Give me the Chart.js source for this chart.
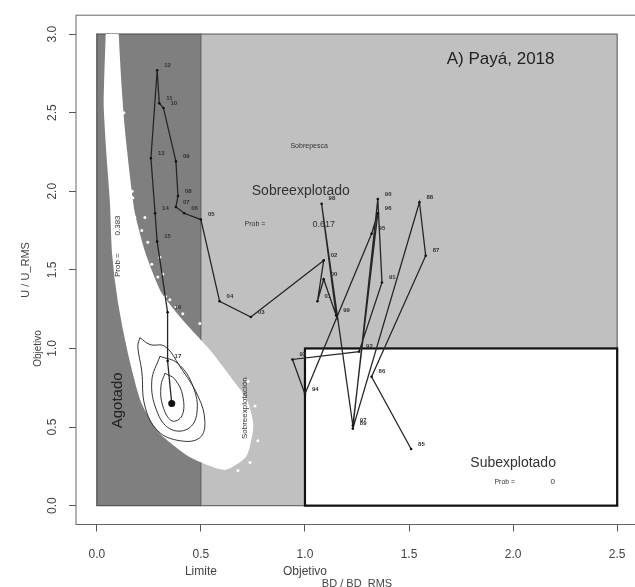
<!DOCTYPE html>
<html>
<head>
<meta charset="utf-8">
<script src="https://cdn.jsdelivr.net/npm/chart.js@4.4.1/dist/chart.umd.min.js"></script>
<style>
    html, body { margin: 0; padding: 0; background: #fff; overflow: hidden; }
    #wrap { width: 645px; height: 587px; }
</style>
</head>
<body>
<div id="wrap"><canvas id="kobeChart"></canvas></div>
<script>
// --- data ---
const years = ['85','86','87','88','89','90','91','92','93','94','95','96','97','98','99','00','01','02',
               '03','04','05','06','07','08','09','10','11','12','13','14','15','16','17','18'];
const bdRatio = [1.51, 1.32, 1.58, 1.55, 1.23, 1.35, 1.37, 1.26, 0.94, 1.00, 1.32, 1.35, 1.23, 1.08, 1.15, 1.09, 1.06, 1.09,
                 0.74, 0.59, 0.50, 0.42, 0.38, 0.39, 0.38, 0.32, 0.30, 0.29, 0.26, 0.28, 0.29, 0.34, 0.34, 0.36];
const uRatio  = [0.36, 0.82, 1.59, 1.93, 0.49, 1.95, 1.42, 0.98, 0.93, 0.71, 1.73, 1.86, 0.51, 1.92, 1.21, 1.44, 1.30, 1.56,
                 1.20, 1.30, 1.82, 1.86, 1.90, 1.97, 2.19, 2.53, 2.56, 2.77, 2.21, 1.86, 1.68, 1.23, 0.92, 0.65];

// outline of the bootstrap cloud (white band)
const cloudX = [0.050, 0.040, 0.053, 0.070, 0.080, 0.108, 0.155, 0.218, 0.300, 0.447, 0.615,
                0.712, 0.745, 0.716, 0.649, 0.540, 0.410, 0.300, 0.225, 0.175, 0.150, 0.125, 0.108, 0.098];
const cloudY = [3.00, 2.56, 2.24, 1.93, 1.61, 1.30, 0.98, 0.666, 0.476, 0.319, 0.237,
                0.319, 0.508, 0.666, 0.792, 0.981, 1.170, 1.360, 1.612, 1.864, 2.117, 2.432, 2.748, 3.00];
// loose points on the edge of the cloud
const speckX = [0.183, 0.216, 0.245, 0.264, 0.293, 0.317, 0.351, 0.380, 0.413, 0.438, 0.476, 0.495, 0.519,
                0.567, 0.615, 0.688, 0.726, 0.760, 0.774, 0.736, 0.678, 0.144, 0.173, 0.231, 0.303,
                0.160, 0.190, 0.205, 0.250, 0.272, 0.330, 0.360, 0.395, 0.455, 0.140, 0.130, 0.170];
const speckY = [1.833, 1.751, 1.675, 1.536, 1.454, 1.473, 1.309, 1.265, 1.221, 1.107, 1.057, 1.158, 0.943,
                0.905, 0.842, 0.729, 0.792, 0.634, 0.413, 0.274, 0.224, 2.054, 1.959, 1.833, 1.580,
                1.900, 1.720, 1.620, 1.500, 1.380, 1.330, 1.180, 1.140, 1.000, 2.250, 2.500, 2.000];

// density contours around the last year
const contourInnerX = [0.327, 0.375, 0.413, 0.409, 0.361, 0.317, 0.308, 0.327];
const contourInnerY = [0.842, 0.804, 0.697, 0.571, 0.539, 0.634, 0.760, 0.842];
const contourMidX = [0.303, 0.389, 0.462, 0.481, 0.438, 0.351, 0.288, 0.264, 0.303];
const contourMidY = [0.950, 0.905, 0.760, 0.590, 0.489, 0.489, 0.603, 0.792, 0.950];
const contourOuterX = [0.207, 0.255, 0.327, 0.399, 0.486, 0.519, 0.495, 0.399, 0.293, 0.231, 0.216, 0.197, 0.207];
const contourOuterY = [1.069, 1.025, 1.013, 0.886, 0.697, 0.539, 0.432, 0.413, 0.476, 0.634, 0.855, 1.013, 1.069];

// reference-point limits and ticks
const limitBD = 0.5, targetBD = 1.0, maxBD = 2.5;
const targetU = 1.0, maxU = 3.0;
const xTicks = [0, 0.5, 1.0, 1.5, 2.0, 2.5];
const yTicks = [0, 0.5, 1.0, 1.5, 2.0, 2.5, 3.0];

const FONT = "'Liberation Sans', Arial, Helvetica, sans-serif";

const pts = (xs, ys) => xs.map((x, i) => ({ x: x, y: ys[i] }));

// zones drawn behind everything
const zones = [
    { x0: 0, x1: limitBD, y0: 0, y1: maxU, fill: '#7f7f7f', stroke: '#505050', lw: 1.2 },
    { x0: limitBD, x1: maxBD, y0: 0, y1: maxU, fill: '#c0c0c0', stroke: '#6a6a6a', lw: 1.2 },
    { x0: targetBD, x1: maxBD, y0: 0, y1: targetU, fill: '#ffffff', stroke: '#111111', lw: 2.2 }
];

// text placed on the plot (data coordinates)
const notes = [
    { text: 'A) Payá, 2018', x: 1.94, y: 2.84, size: 17, rot: 0, color: '#222' },
    { text: 'Sobrepesca', x: 1.02, y: 2.29, size: 7, rot: 0, color: '#333' },
    { text: 'Sobreexplotado', x: 0.98, y: 2.00, size: 14, rot: 0, color: '#333' },
    { text: 'Prob =', x: 0.76, y: 1.79, size: 7, rot: 0, color: '#333' },
    { text: '0.617', x: 1.09, y: 1.79, size: 9, rot: 0, color: '#333' },
    { text: 'Prob =        0.383', x: 0.10, y: 1.65, size: 8, rot: -90, color: '#333' },
    { text: 'Agotado', x: 0.10, y: 0.67, size: 15, rot: -90, color: '#222' },
    { text: 'Sobreexplotación', x: 0.71, y: 0.62, size: 8, rot: -90, color: '#333' },
    { text: 'Subexplotado', x: 2.00, y: 0.27, size: 14, rot: 0, color: '#333' },
    { text: 'Prob =', x: 1.96, y: 0.15, size: 7, rot: 0, color: '#333' },
    { text: '0', x: 2.19, y: 0.15, size: 8, rot: 0, color: '#333' }
];

const kobePlugin = {
    id: 'kobe',
    beforeDatasetsDraw(chart) {
        const { ctx, scales: { x, y } } = chart;
        ctx.save();
        for (const z of zones) {
            const left = x.getPixelForValue(z.x0), right = x.getPixelForValue(z.x1);
            const top = y.getPixelForValue(z.y1), bottom = y.getPixelForValue(z.y0);
            ctx.fillStyle = z.fill;
            ctx.fillRect(left, top, right - left, bottom - top);
            ctx.strokeStyle = z.stroke;
            ctx.lineWidth = z.lw;
            ctx.strokeRect(left, top, right - left, bottom - top);
        }
        ctx.restore();
    },
    afterDatasetsDraw(chart) {
        const { ctx, scales: { x, y } } = chart;
        ctx.save();
        // year labels next to each trajectory point
        const meta = chart.getDatasetMeta(chart.data.datasets.length - 1);
        ctx.font = 'bold 6px ' + FONT;
        ctx.fillStyle = '#333';
        ctx.textAlign = 'left';
        ctx.textBaseline = 'middle';
        meta.data.forEach((p, i) => {
            if (i === years.length - 1) return;
            ctx.fillText(years[i], p.x + 7, p.y - 5);
        });
        // zone names and probabilities
        ctx.textAlign = 'center';
        for (const n of notes) {
            ctx.save();
            ctx.translate(x.getPixelForValue(n.x), y.getPixelForValue(n.y));
            ctx.rotate(n.rot * Math.PI / 180);
            ctx.font = n.size + 'px ' + FONT;
            ctx.fillStyle = n.color;
            ctx.fillText(n.text, 0, 0);
            ctx.restore();
        }
        // secondary y label
        ctx.save();
        ctx.translate(38, y.getPixelForValue(targetU));
        ctx.rotate(-Math.PI / 2);
        ctx.font = '10px ' + FONT;
        ctx.fillStyle = '#444';
        ctx.fillText('Objetivo', 0, 0);
        ctx.restore();
        ctx.restore();
    },
    afterDraw(chart) {
        const { ctx, chartArea: a } = chart;
        ctx.save();
        ctx.strokeStyle = '#666';
        ctx.lineWidth = 1;
        ctx.strokeRect(a.left, a.top, a.right - a.left, a.bottom - a.top);
        ctx.restore();
    }
};

new Chart(document.getElementById('kobeChart'), {
    type: 'line',
    data: {
        datasets: [
            {
                // cloud at the bottom of the stack
                order: 10,
                data: pts(cloudX, cloudY),
                borderColor: '#ffffff', backgroundColor: '#ffffff', borderWidth: 3,
                fill: 'shape', pointRadius: 0, tension: 0.2
            },
            {
                order: 9,
                data: pts(speckX, speckY),
                showLine: false, pointRadius: 1.5, pointBorderWidth: 0,
                pointBackgroundColor: '#ffffff'
            },
            {
                order: 5,
                data: pts(contourOuterX, contourOuterY),
                borderColor: '#333', borderWidth: 1, pointRadius: 0, tension: 0.4, fill: false
            },
            {
                order: 5,
                data: pts(contourMidX, contourMidY),
                borderColor: '#333', borderWidth: 1, pointRadius: 0, tension: 0.4, fill: false
            },
            {
                order: 5,
                data: pts(contourInnerX, contourInnerY),
                borderColor: '#333', borderWidth: 1, pointRadius: 0, tension: 0.4, fill: false
            },
            {
                order: 0,
                data: pts(bdRatio, uRatio),
                borderColor: '#262626', borderWidth: 1.3, fill: false, tension: 0,
                pointRadius: ctx => ctx.dataIndex === years.length - 1 ? 3.5 : 1.3,
                pointBackgroundColor: '#111', pointBorderWidth: 0
            }
        ]
    },
    options: {
        responsive: true,
        maintainAspectRatio: false,
        animation: false,
        events: [],
        layout: { padding: { top: 11, right: 7, left: 0, bottom: 0 } },
        plugins: { legend: { display: false }, tooltip: { enabled: false } },
        scales: {
            x: {
                type: 'linear', min: -0.1, max: 2.6,
                afterBuildTicks: s => { s.ticks = xTicks.map(v => ({ value: v })); },
                afterFit: s => { s.height = 62.5; },
                border: { display: false },
                grid: { drawOnChartArea: false, drawTicks: true, tickLength: 7, color: '#555' },
                ticks: {
                    autoSkip: false, maxRotation: 0, padding: 14, color: '#444',
                    font: { family: FONT, size: 12, lineHeight: 1.45 },
                    callback: v => {
                        const s = v.toFixed(1);
                        if (v === limitBD) return [s, 'Limite'];
                        if (v === targetBD) return [s, 'Objetivo'];
                        return s;
                    }
                },
                title: {
                    display: true, text: 'BD / BD_RMS', color: '#444',
                    font: { family: FONT, size: 11 }, padding: { top: 0, bottom: -4 }
                }
            },
            y: {
                type: 'linear', min: -0.12, max: 3.12,
                afterBuildTicks: s => { s.ticks = yTicks.map(v => ({ value: v })); },
                afterFit: s => { s.width = 76; },
                border: { display: false },
                grid: { drawOnChartArea: false, drawTicks: true, tickLength: 7, color: '#555' },
                ticks: {
                    autoSkip: false, minRotation: 90, maxRotation: 90, crossAlign: 'center',
                    padding: 8, color: '#444', font: { family: FONT, size: 12 },
                    callback: v => v.toFixed(1)
                },
                title: {
                    display: true, text: 'U / U_RMS', color: '#444',
                    font: { family: FONT, size: 11 }, padding: { top: 19, bottom: 0 }
                }
            }
        }
    },
    plugins: [kobePlugin]
});
</script>
</body>
</html>
